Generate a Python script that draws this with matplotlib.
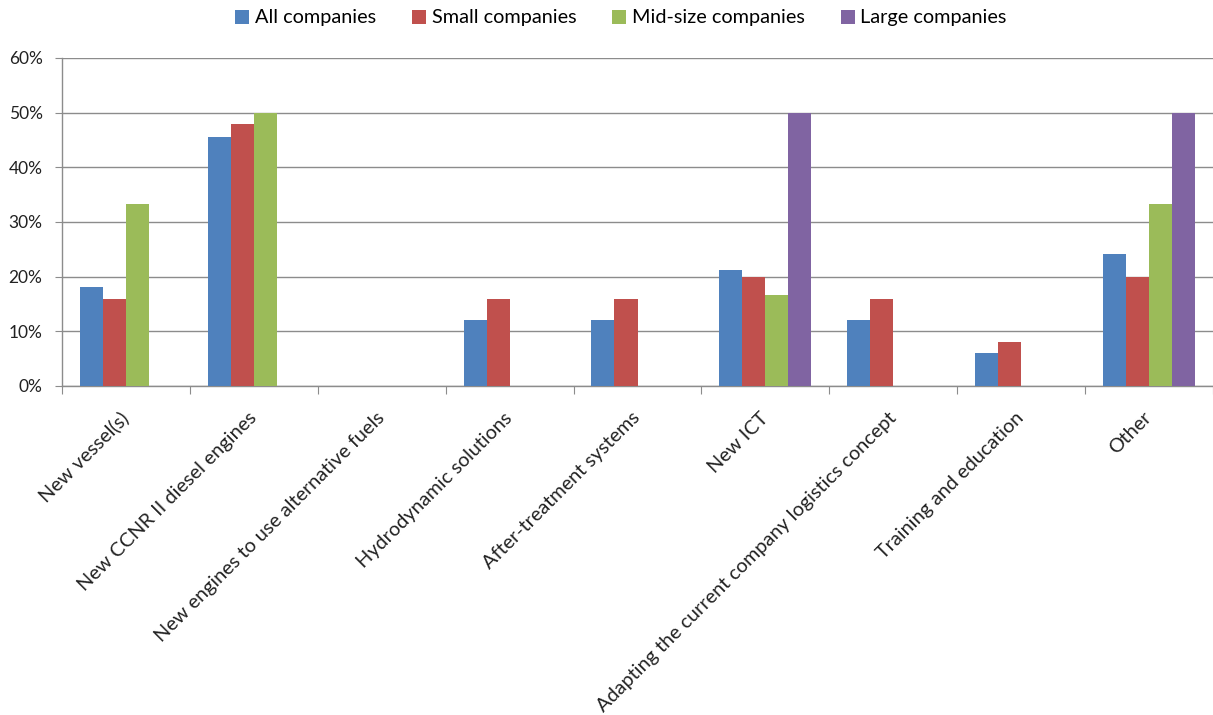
import numpy as np
import matplotlib.pyplot as plt
from matplotlib.patches import Patch

plt.rcParams['font.family'] = ['Lato', 'DejaVu Sans']

categories = [
    "New vessel(s)",
    "New CCNR II diesel engines",
    "New engines to use alternative fuels",
    "Hydrodynamic solutions",
    "After-treatment systems",
    "New ICT",
    "Adapting the current company logistics concept",
    "Training and education",
    "Other",
]
series_names = ["All companies", "Small companies", "Mid-size companies", "Large companies"]
all_companies = [18.2, 45.5, 0, 12.1, 12.1, 21.2, 12.1, 6.1, 24.2]
small_companies = [16.0, 48.0, 0, 16.0, 16.0, 20.0, 16.0, 8.0, 20.0]
mid_companies = [33.3, 50.0, 0, 0, 0, 16.7, 0, 0, 33.3]
large_companies = [0, 0, 0, 0, 0, 50.0, 0, 0, 50.0]
y_ticks = [0, 10, 20, 30, 40, 50, 60]
colors = ["#4F81BD", "#C0504D", "#9BBB59", "#8064A2"]

series = [all_companies, small_companies, mid_companies, large_companies]

fig = plt.figure(figsize=(12.13, 7.15), dpi=100)
ax = fig.add_axes([62 / 1213, 1 - 386 / 715, (1213 - 62) / 1213, (386 - 58) / 715])

x = np.arange(len(categories))
bw = 0.18
for i, (vals, c) in enumerate(zip(series, colors)):
    ax.bar(x + (i - 1.5) * bw, vals, width=bw, color=c, linewidth=0, zorder=3)

ax.set_xlim(-0.5, len(categories) - 0.5)
ax.set_ylim(0, 60)
ax.set_yticks(y_ticks)
ax.set_yticklabels([f"{t}%" for t in y_ticks], fontsize=12.5, color="#222222")
ax.yaxis.grid(True, color="#8c8c8c", linewidth=1.0, zorder=0)
ax.set_axisbelow(True)

for s in ["top", "right"]:
    ax.spines[s].set_visible(False)
for s in ["left", "bottom"]:
    ax.spines[s].set_color("#8c8c8c")
    ax.spines[s].set_linewidth(1.0)

ax.tick_params(axis="y", length=5, color="#8c8c8c", direction="out", pad=9)

# category boundaries carry the tick marks, centres carry the labels
ax.set_xticks(np.arange(len(categories) + 1) - 0.5)
ax.set_xticklabels([])
ax.tick_params(axis="x", which="major", length=6, color="#8c8c8c", direction="out")
ax.set_xticks(x, minor=True)
ax.set_xticklabels(categories, minor=True, rotation=45, ha="right", va="center",
                   rotation_mode="anchor", fontsize=14.3, color="#222222")
ax.tick_params(axis="x", which="minor", length=0, pad=21)

handles = [Patch(facecolor=c, edgecolor="none") for c in colors]
fig.legend(handles, series_names, loc="center", bbox_to_anchor=(621 / 1213, 1 - 18 / 715),
           ncol=4, frameon=False, fontsize=14.3, handlelength=0.72, handleheight=0.7,
           handletextpad=0.28, columnspacing=1.8, borderpad=0, borderaxespad=0)

fig.savefig("out.png", dpi=100, facecolor="white")
